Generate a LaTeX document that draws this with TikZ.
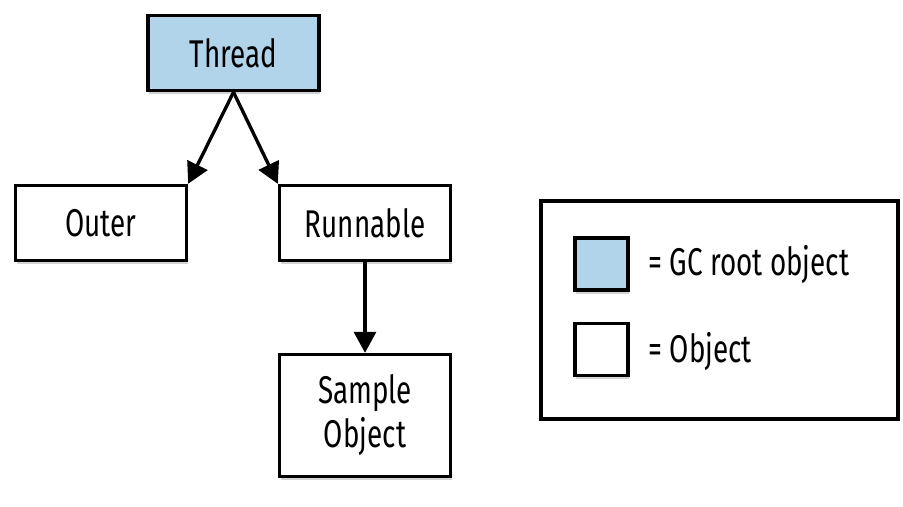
\documentclass[tikz,border=0pt]{standalone}
\usepackage{fontspec}
\setmainfont{Fira Sans}[FakeStretch=0.72]
\usetikzlibrary{arrows.meta,shadows}
\definecolor{rootblue}{HTML}{B2D4EA}

\begin{document}
\begin{tikzpicture}[line width=1.9pt,>={Triangle[length=0.42cm,width=0.44cm]},
  obj/.style={draw,fill=white,minimum width=3.42cm,minimum height=1.5cm,
    font=\fontsize{22}{25}\selectfont,align=center,
    drop shadow={opacity=0.35,shadow xshift=0.8pt,shadow yshift=-2pt}},
  legbox/.style={obj,minimum width=1.06cm,minimum height=1.04cm},
  legtext/.style={anchor=west,font=\fontsize{22}{25}\selectfont}]
\useasboundingbox (0,0) rectangle (18.06,10.14);
% ---------- 对象图 ----------
\node[obj,fill=rootblue] (thread) at (4.67,9.08) {Thread};
\node[obj] (outer) at (2.02,5.68) {Outer};
\node[obj] (runnable) at (7.30,5.68) {Runnable};
\node[obj,minimum height=2.44cm] (sample) at (7.30,1.83) {Sample\\Object};
% 引用箭头
\draw[->] (thread.south) -- (outer.north east);
\draw[->] (thread.south) -- (runnable.north west);
\draw[->] (runnable.south) -- (sample.north);
% ---------- 图例 ----------
\node[draw,minimum width=7.14cm,minimum height=4.36cm] (legend) at (14.39,3.94) {};
\node[legbox,fill=rootblue] (rootkey) at (12.03,4.86) {};
\node[legbox] (objkey) at (12.03,3.15) {};
\node[legtext] (roottext) at (12.82,4.85) {= GC root object};
\node[legtext] (objtext) at (12.82,3.10) {= Object};
\end{tikzpicture}
\end{document}
